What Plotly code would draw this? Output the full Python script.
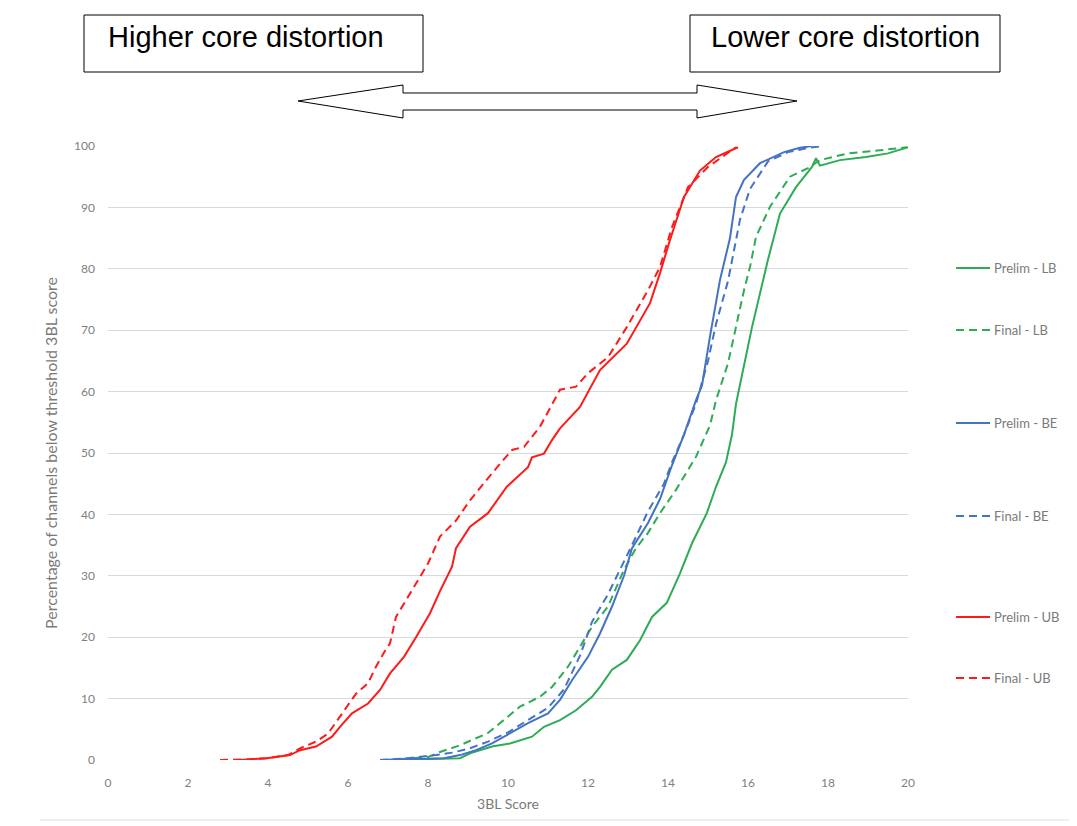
import plotly.graph_objects as go

# ---- data ----
prelim_lb_x = [7.1, 8.8, 9.05, 9.6, 10.05, 10.6, 10.9, 11.3, 11.7, 12.1, 12.3, 12.6, 12.97, 13.3, 13.6, 13.97, 14.3, 14.6, 14.97, 15.2, 15.45, 15.6, 15.7, 15.8, 16.1, 16.5, 16.8, 17.2, 17.6, 17.7, 17.8, 18.3, 18.95, 19.5, 20.0]
prelim_lb_y = [0, 0.3, 1.1, 2.2, 2.7, 3.8, 5.4, 6.5, 8.1, 10.3, 11.9, 14.7, 16.3, 19.5, 23.3, 25.6, 30.4, 35.3, 40.2, 44.5, 48.5, 53.0, 58.0, 61.0, 70.5, 81.5, 89.0, 93.3, 96.6, 98.0, 96.8, 97.7, 98.2, 98.8, 99.8]

final_lb_x = [7.0, 8.0, 8.3, 8.8, 9.5, 9.9, 10.3, 10.8, 11.1, 11.5, 11.8, 12.1, 12.5, 12.9, 13.2, 13.5, 13.8, 14.2, 14.7, 15.05, 15.2, 15.5, 15.9, 16.05, 16.2, 16.55, 17.05, 17.5, 17.8, 18.5, 19.3, 19.97]
final_lb_y = [0, 0.5, 1.3, 2.4, 4.4, 6.5, 8.7, 10.3, 11.9, 15.2, 18.4, 21.7, 25.0, 31.0, 34.5, 37.0, 40.2, 44.0, 49.4, 54.5, 58.6, 64.6, 76.5, 80.3, 85.2, 90.1, 95.0, 96.4, 97.7, 98.8, 99.3, 99.8]

prelim_be_x = [6.8, 7.5, 8.4, 8.8, 9.2, 9.6, 10.05, 10.5, 11.0, 11.3, 11.6, 12.0, 12.3, 12.6, 12.9, 13.1, 13.5, 13.8, 14.1, 14.4, 14.7, 14.85, 15.05, 15.3, 15.55, 15.7, 15.9, 16.3, 16.9, 17.3, 17.6]
prelim_be_y = [0, 0.1, 0.3, 0.8, 1.6, 2.7, 4.4, 6.0, 7.6, 9.8, 13.0, 16.8, 20.6, 25.0, 30.0, 34.5, 38.6, 42.5, 48.0, 53.0, 58.6, 61.0, 69.0, 78.2, 85.0, 91.7, 94.5, 97.2, 99.0, 99.7, 100]

final_be_x = [6.8, 7.5, 8.2, 8.6, 9.0, 9.5, 10.0, 10.5, 11.0, 11.4, 11.8, 12.1, 12.5, 13.1, 13.5, 13.9, 14.1, 14.4, 14.7, 15.0, 15.2, 15.5, 15.8, 16.05, 16.5, 17.0, 17.5, 17.9]
final_be_y = [0, 0.3, 0.8, 1.2, 1.8, 3.0, 4.5, 6.5, 8.5, 11.5, 17.0, 22.5, 27.0, 35.0, 40.5, 45.0, 48.5, 53.0, 58.0, 65.0, 71.0, 78.0, 88.0, 93.0, 97.5, 99.0, 99.7, 100]

prelim_ub_x = [3.3, 3.97, 4.55, 4.8, 5.2, 5.6, 5.8, 6.1, 6.5, 6.8, 7.05, 7.4, 7.7, 8.05, 8.3, 8.6, 8.7, 9.05, 9.5, 9.97, 10.5, 10.6, 10.9, 11.1, 11.3, 11.8, 12.3, 12.97, 13.55, 13.8, 14.05, 14.4, 14.8, 15.2, 15.75]
prelim_ub_y = [0, 0.3, 0.8, 1.6, 2.2, 3.8, 5.4, 7.6, 9.2, 11.4, 14.1, 16.8, 20.0, 23.9, 27.5, 31.5, 34.5, 38.0, 40.2, 44.5, 47.7, 49.3, 49.9, 52.1, 54.0, 57.5, 63.5, 67.8, 74.4, 79.3, 84.7, 91.7, 96.0, 98.2, 99.8]

final_ub_x = [2.8, 3.5, 4.0, 4.5, 4.8, 5.2, 5.5, 5.8, 6.0, 6.2, 6.5, 6.7, 6.9, 7.05, 7.2, 7.5, 7.6, 8.0, 8.3, 8.7, 9.05, 9.6, 10.1, 10.4, 10.8, 11.3, 11.7, 12.0, 12.5, 12.97, 13.5, 13.8, 14.1, 14.5, 15.0, 15.5, 15.7]
final_ub_y = [0, 0.1, 0.3, 0.8, 1.9, 3.0, 4.3, 7.0, 9.0, 10.8, 12.5, 15.2, 17.5, 19.0, 23.3, 26.6, 27.7, 32.0, 36.4, 39.0, 42.3, 46.7, 50.5, 51.0, 54.3, 60.3, 60.8, 63.0, 65.6, 70.5, 76.5, 80.3, 86.8, 93.3, 96.6, 98.8, 99.8]

series = [
    ("Prelim - LB", prelim_lb_x, prelim_lb_y, "#2eab55", "solid"),
    ("Final - LB", final_lb_x, final_lb_y, "#2eab55", "8px,5px"),
    ("Prelim - BE", prelim_be_x, prelim_be_y, "#4472c4", "solid"),
    ("Final - BE", final_be_x, final_be_y, "#4472c4", "8px,5px"),
    ("Prelim - UB", prelim_ub_x, prelim_ub_y, "#ff1a1a", "solid"),
    ("Final - UB", final_ub_x, final_ub_y, "#ff1a1a", "8px,5px"),
]
x_ticks = [0, 2, 4, 6, 8, 10, 12, 14, 16, 18, 20]
y_ticks = [0, 10, 20, 30, 40, 50, 60, 70, 80, 90, 100]
legend_py = [268, 330, 423, 516, 617, 678]

# ---- layout helpers (screen pixel -> paper); page body has an 8px offset ----
OFF = 8
L, R, T, B = 108, 908, 146, 760
W, H = 1077, 826
def px(x):
    return (x - L) / (R - L)
def py(y):
    return (B - y) / (B - T)

fig = go.Figure()
for name, xs, ys, col, dash in series:
    fig.add_trace(go.Scatter(x=xs, y=ys, mode="lines", name=name, showlegend=False,
                             line=dict(color=col, width=2, dash=dash)))

shapes = []
annotations = []
# manual legend
for (name, xs, ys, col, dash), ly in zip(series, legend_py):
    shapes.append(dict(type="line", xref="paper", yref="paper",
                       x0=px(956), x1=px(990), y0=py(ly), y1=py(ly),
                       line=dict(color=col, width=2, dash=dash)))
    annotations.append(dict(xref="paper", yref="paper", x=px(992), y=py(ly),
                            text=name, showarrow=False, xanchor="left", yanchor="middle",
                            font=dict(family="Lato, Open Sans, sans-serif", size=13, color="#7a7a7a")))

# top boxes
for (x0, x1, tx, label) in [(84, 423, 106, "Higher core distortion"), (690, 1000, 709, "Lower core distortion")]:
    shapes.append(dict(type="rect", xref="paper", yref="paper",
                       x0=px(x0), x1=px(x1), y0=py(72), y1=py(15),
                       line=dict(color="black", width=1), fillcolor="white"))
    annotations.append(dict(xref="paper", yref="paper", x=px(tx), y=py(37), text=label,
                            showarrow=False, xanchor="left", yanchor="middle",
                            font=dict(family="Liberation Sans, Arial, sans-serif", size=29, color="black")))

# double arrow
pts = [(298, 101), (403, 85), (403, 93), (697, 93), (697, 85), (797, 101),
       (697, 118), (697, 110), (403, 110), (403, 118)]
path = "M " + " L ".join(f"{px(a):.5f},{py(b):.5f}" for a, b in pts) + " Z"
shapes.append(dict(type="path", xref="paper", yref="paper", path=path,
                   line=dict(color="black", width=1), fillcolor="white"))

# faint bottom border
shapes.append(dict(type="line", xref="paper", yref="paper", x0=px(40), x1=px(1077),
                   y0=py(820), y1=py(820), line=dict(color="#dddddd", width=1)))

tickfont = dict(family="Lato, Open Sans, sans-serif", size=12, color="#7f7f7f")
fig.update_layout(
    width=W, height=H,
    margin=dict(l=L - OFF, r=W - (R - OFF), t=T - OFF, b=H - (B - OFF)),
    paper_bgcolor="white", plot_bgcolor="white",
    shapes=shapes, annotations=annotations,
    xaxis=dict(range=[0, 20], tickvals=x_ticks, showgrid=False, zeroline=False,
               showline=False, tickfont=tickfont, ticks="", ticklabelstandoff=14,
               title=dict(text="3BL Score", font=dict(family="Lato, Open Sans, sans-serif", size=14, color="#7a7a7a"), standoff=10)),
    yaxis=dict(range=[0, 100], tickvals=y_ticks, showgrid=True, gridcolor="#d9d9d9", gridwidth=1,
               zeroline=False, showline=False, tickfont=tickfont, ticks="", ticklabelstandoff=12,
               title=dict(text="Percentage of channels below threshold 3BL score",
                          font=dict(family="Lato, Open Sans, sans-serif", size=16, color="#7a7a7a"), standoff=12)),
)
fig.write_html("out.html")
